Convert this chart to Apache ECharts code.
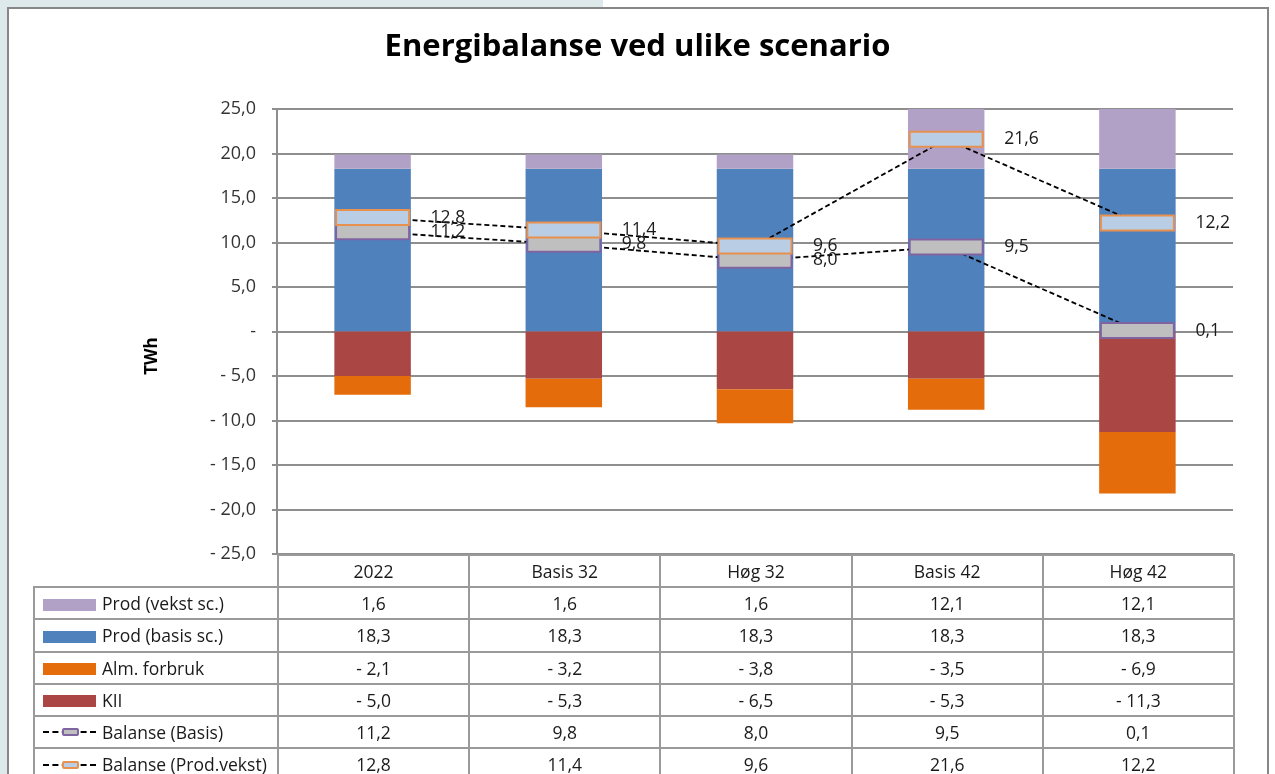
<!DOCTYPE html>
<html>
<head>
<meta charset="utf-8">
<script src="https://cdn.jsdelivr.net/npm/echarts@6/dist/echarts.min.js"></script>
<style>
  html, body { margin: 0; padding: 0; background: #fff; }
  body { width: 1275px; height: 774px; position: relative; overflow: hidden; font-family: "Open Sans", sans-serif; }
  .strip-top { position: absolute; left: 0; top: 0; width: 603px; height: 7px; background: #dde9ea; }
  .strip-left { position: absolute; left: 0; top: 0; width: 7px; height: 774px; background: #dde9ea; }
  .frame { position: absolute; left: 7px; top: 7px; width: 1262px; height: 800px; border: 2px solid #878787; box-sizing: border-box; background: #fff; }
  #myChart { position: absolute; left: 0; top: 0; width: 1275px; height: 774px; }
  #dataTable { position: absolute; left: 33px; top: 554px; border-collapse: collapse; table-layout: fixed; font-size: 17.5px; color: #1a1a1a; }
  #dataTable td { border: 2px solid #9a9a9a; text-align: center; padding: 0; height: 30.2px; line-height: 20px; white-space: nowrap; }
  #dataTable tr.head td.blank { border-top: none; border-left: none; }
  #dataTable td.lab { text-align: left; padding-left: 8px; }
  .key { display: inline-block; width: 53px; height: 12px; vertical-align: middle; margin-right: 6px; position: relative; top: -1px; }
  .key.line { height: 0; border-top: 2px dashed #000; top: -2px; }
  .key.line i { position: absolute; left: 19px; top: -5px; width: 13px; height: 4px; border: 2px solid; border-radius: 2px; }
</style>
</head>
<body>
<div class="strip-top"></div>
<div class="strip-left"></div>
<div class="frame"></div>
<div id="myChart"></div>
<table id="dataTable"></table>
<script>
const categories = ['2022', 'Basis 32', 'Høg 32', 'Basis 42', 'Høg 42']
const prodVekst = [1.6, 1.6, 1.6, 12.1, 12.1]
const prodBasis = [18.3, 18.3, 18.3, 18.3, 18.3]
const almForbruk = [-2.1, -3.2, -3.8, -3.5, -6.9]
const kii = [-5.0, -5.3, -6.5, -5.3, -11.3]
const balanseBasis = [11.2, 9.8, 8.0, 9.5, 0.1]
const balanseVekst = [12.8, 11.4, 9.6, 21.6, 12.2]
const yTicks = [-25, -20, -15, -10, -5, 0, 5, 10, 15, 20, 25]

const colors = {
  vekst: '#b2a1c7',
  basis: '#4f81bd',
  alm: '#e46c0a',
  kii: '#aa4643'
}

// tall med komma, og "- 5,0" for negative
function fmt(v) {
  if (v === 0) return '-'
  const s = Math.abs(v).toFixed(1).replace('.', ',')
  return v < 0 ? '- ' + s : s
}

// boks-markør + etikett (rect-symbolet i echarts skalerer kantlinja skeivt)
function markerSeries(name, values, fill, stroke, z) {
  return {
    name: name,
    type: 'custom',
    z: z,
    data: values.map((v, i) => [i, v]),
    encode: { x: 0, y: 1 },
    renderItem: (params, api) => {
      const v = api.value(1)
      const p = api.coord([api.value(0), v])
      return {
        type: 'group',
        children: [
          { type: 'rect', shape: { x: p[0] - 36.5, y: p[1] - 7.5, width: 73, height: 15 }, style: { fill: fill, stroke: stroke, lineWidth: 2 } },
          { type: 'text', x: p[0] + 58, y: p[1], style: { text: fmt(v), fill: '#1a1a1a', fontSize: 17.5, fontFamily: 'Open Sans', verticalAlign: 'middle', align: 'left' } }
        ]
      }
    }
  }
}

function lineSeries(name, values) {
  return {
    name: name, type: 'line', data: values, z: 5,
    symbol: 'none',
    lineStyle: { color: '#000', width: 1.8, type: [5, 3] }
  }
}

const option = {
  animation: false,
  title: {
    text: 'Energibalanse ved ulike scenario',
    left: 'center',
    top: 27,
    textStyle: { fontSize: 31, fontWeight: 'bold', color: '#000', fontFamily: 'Open Sans' }
  },
  grid: { left: 277, right: 42, top: 109, bottom: 220 },
  xAxis: {
    type: 'category',
    data: categories,
    axisLine: { show: false },
    axisTick: { show: false },
    axisLabel: { show: false }
  },
  yAxis: {
    type: 'value',
    min: -25,
    max: 25,
    interval: 5,
    axisLine: { show: true, lineStyle: { color: '#8e8e8e', width: 2 } },
    axisTick: { show: true, length: 5, lineStyle: { color: '#8e8e8e', width: 2 } },
    axisLabel: {
      fontSize: 18, color: '#333', fontFamily: 'Open Sans', margin: 21,
      formatter: v => yTicks.includes(v) ? fmt(v) : ''
    },
    splitLine: { lineStyle: { color: '#8e8e8e', width: 2 } }
  },
  graphic: [{
    type: 'text',
    x: 152,
    y: 356,
    rotation: Math.PI / 2,
    style: { text: 'TWh', fontSize: 17, fontWeight: 'bold', fill: '#000', fontFamily: 'Open Sans', align: 'center', verticalAlign: 'middle' }
  }],
  series: [
    { name: 'Prod (basis sc.)', type: 'bar', stack: 'tot', barWidth: '40%', data: prodBasis, itemStyle: { color: colors.basis } },
    { name: 'Prod (vekst sc.)', type: 'bar', stack: 'tot', data: prodVekst, itemStyle: { color: colors.vekst } },
    { name: 'KII', type: 'bar', stack: 'tot', data: kii, itemStyle: { color: colors.kii } },
    { name: 'Alm. forbruk', type: 'bar', stack: 'tot', data: almForbruk, itemStyle: { color: colors.alm } },
    lineSeries('Balanse (Basis)', balanseBasis),
    lineSeries('Balanse (Prod.vekst)', balanseVekst),
    markerSeries('Balanse (Basis) markør', balanseBasis, '#bfbfbf', '#8064a2', 6),
    markerSeries('Balanse (Prod.vekst) markør', balanseVekst, '#b9cde5', '#e8914f', 7)
  ]
}

const myChart = echarts.init(document.getElementById('myChart'))
myChart.setOption(option)

// datatabell under diagrammet
const rows = [
  { name: 'Prod (vekst sc.)', key: colors.vekst, values: prodVekst },
  { name: 'Prod (basis sc.)', key: colors.basis, values: prodBasis },
  { name: 'Alm. forbruk', key: colors.alm, values: almForbruk },
  { name: 'KII', key: colors.kii, values: kii },
  { name: 'Balanse (Basis)', line: '#8064a2', fill: '#bfbfbf', values: balanseBasis },
  { name: 'Balanse (Prod.vekst)', line: '#e8914f', fill: '#b9cde5', values: balanseVekst }
]
let html = '<colgroup><col style="width:244px">' + categories.map(() => '<col style="width:191.2px">').join('') + '</colgroup>'
html += '<tr class="head"><td class="blank"></td>' + categories.map(c => '<td>' + c + '</td>').join('') + '</tr>'
rows.forEach(r => {
  const key = r.line
    ? '<span class="key line"><i style="border-color:' + r.line + ';background:' + r.fill + '"></i></span>'
    : '<span class="key" style="background:' + r.key + '"></span>'
  html += '<tr><td class="lab">' + key + r.name + '</td>' + r.values.map(v => '<td>' + fmt(v) + '</td>').join('') + '</tr>'
})
document.getElementById('dataTable').innerHTML = html
</script>
</body>
</html>
